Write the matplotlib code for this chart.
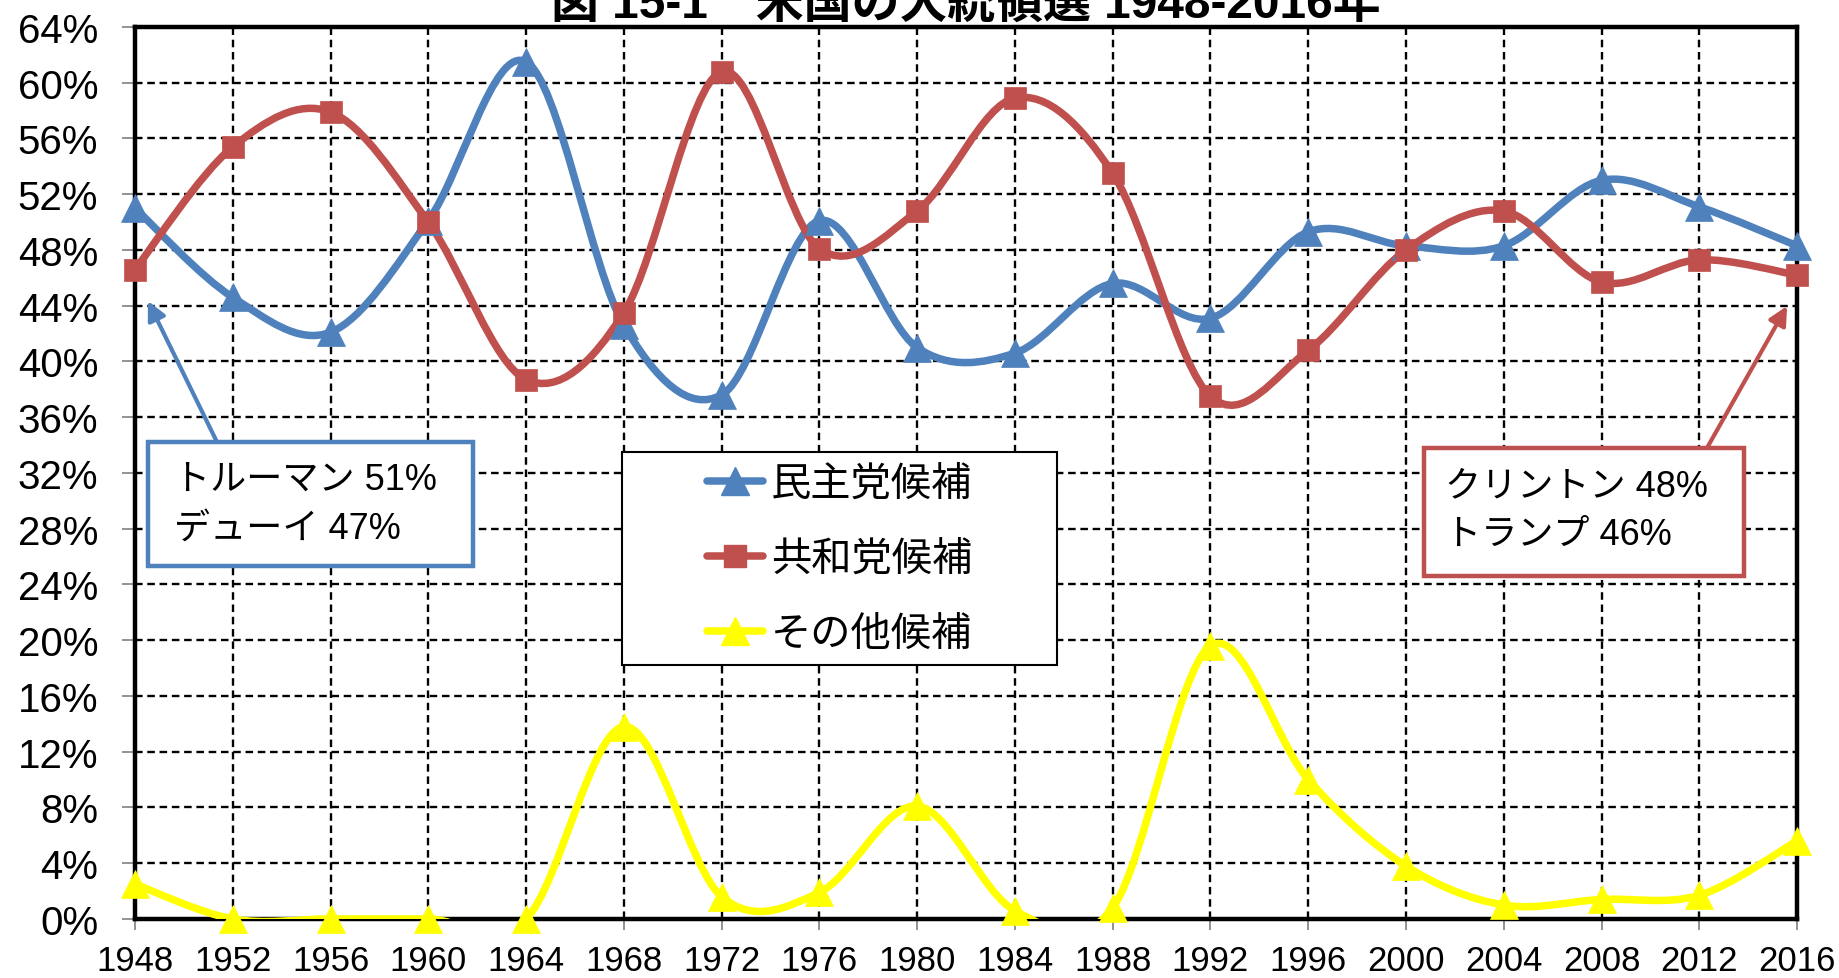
import matplotlib
matplotlib.use("Agg")
import matplotlib.pyplot as plt
from matplotlib.path import Path
from matplotlib.patches import PathPatch, Rectangle
from matplotlib.lines import Line2D
import numpy as np

# ---------------- data ----------------
years = [1948, 1952, 1956, 1960, 1964, 1968, 1972, 1976, 1980, 1984,
         1988, 1992, 1996, 2000, 2004, 2008, 2012, 2016]
dem = [51.0, 44.6, 42.1, 50.1, 61.5, 42.6, 37.6, 50.1, 41.0, 40.6,
       45.6, 43.1, 49.3, 48.3, 48.3, 53.0, 51.1, 48.3]
rep = [46.6, 55.4, 57.9, 50.0, 38.7, 43.5, 60.8, 48.1, 50.8, 58.9,
       53.5, 37.5, 40.8, 48.0, 50.8, 45.7, 47.3, 46.2]
oth = [2.5, 0.0, 0.0, 0.0, 0.0, 13.8, 1.6, 1.9, 8.1, 0.6,
       0.8, 19.6, 10.0, 3.8, 1.0, 1.4, 1.7, 5.6]
series_names = ["民主党候補", "共和党候補", "その他候補"]
series_colors = ["#4F81BD", "#C0504D", "#FFFF00"]
series_markers = ["^", "s", "^"]
yticks = list(range(0, 65, 4))
ytick_labels = [f"{v}%" for v in yticks]
title = "図 15-1　米国の大統領選 1948-2016年"
note_left = ["トルーマン 51%", "デューイ 47%"]
note_right = ["クリントン 48%", "トランプ 46%"]

LATIN_CJK = ["Liberation Sans", "Noto Sans CJK JP"]
CJK = ["Noto Sans CJK JP", "DejaVu Sans"]


def smooth_path(x, y):
    n = len(x)
    verts = [(x[0], y[0])]
    codes = [Path.MOVETO]
    for i in range(n - 1):
        p0 = i - 1 if i > 0 else i
        p3 = i + 2 if i + 2 < n else i + 1
        c1 = (x[i] + (x[i + 1] - x[p0]) / 6.0, y[i] + (y[i + 1] - y[p0]) / 6.0)
        c2 = (x[i + 1] - (x[p3] - x[i]) / 6.0, y[i + 1] - (y[p3] - y[i]) / 6.0)
        verts += [c1, c2, (x[i + 1], y[i + 1])]
        codes += [Path.CURVE4] * 3
    return Path(verts, codes)


fig = plt.figure(figsize=(18.39, 9.79), dpi=100)
ax = fig.add_axes([0.0734, 0.0603, 0.9038, 0.9111])
ax.set_xlim(years[0], years[-1])
ax.set_ylim(0, 64)

# grid
ax.set_axisbelow(True)
ax.grid(True, color="black", linestyle=(0, (3.2, 2.0)), linewidth=1.7)

LW = 5.4
ms_map = {"^": 20, "s": 16.5}
for vals, name, col, mk in zip([dem, rep, oth], series_names, series_colors, series_markers):
    patch = PathPatch(smooth_path(years, vals), facecolor="none", edgecolor=col,
                      lw=LW, capstyle="round", joinstyle="round", zorder=3)
    ax.add_patch(patch)
    ax.plot(years, vals, linestyle="none", marker=mk, markersize=ms_map[mk],
            color=col, markeredgecolor=col, markeredgewidth=0.5,
            clip_on=False, zorder=4)

# axes styling
for s in ax.spines.values():
    s.set_linewidth(3.2)
    s.set_color("black")
ax.set_xticks(years)
ax.set_xticklabels([str(y) for y in years], fontsize=25, family=LATIN_CJK)
ax.set_yticks(yticks)
ax.set_yticklabels(ytick_labels, fontsize=29, family=LATIN_CJK)
ax.tick_params(axis="y", direction="out", length=9.5, width=1.2, color="#808080", pad=17)
ax.tick_params(axis="x", direction="out", length=8, width=1.2, color="#808080", pad=10)

# legend (frame drawn separately)
lx0, ly0, lx1, ly1 = 0.293, 0.285, 0.555, 0.5235
ax.add_patch(Rectangle((lx0, ly0), lx1 - lx0, ly1 - ly0, transform=ax.transAxes,
                       facecolor="white", edgecolor="black", lw=1.5, zorder=6))
handles = [Line2D([0], [0], color=c, lw=LW, marker=m, markersize=ms_map[m],
                  markeredgecolor=c, solid_capstyle="round")
           for c, m in zip(series_colors, series_markers)]
leg = ax.legend(handles, series_names, loc="center",
                bbox_to_anchor=((lx0 + lx1) / 2, (ly0 + ly1) / 2),
                bbox_transform=ax.transAxes, frameon=False,
                prop={"family": CJK, "size": 29}, handlelength=1.4,
                handletextpad=0.2, labelspacing=0.85, borderaxespad=0)
leg.set_zorder(7)

# annotation boxes
def note_box(x0, y0, x1, y1, color, lines, tx, ty1, ty2):
    ax.add_patch(Rectangle((x0, y0), x1 - x0, y1 - y0, transform=ax.transAxes,
                           facecolor="white", edgecolor=color, lw=3.2, zorder=6))
    ax.text(tx, ty1, lines[0], transform=ax.transAxes, fontsize=26,
            family=LATIN_CJK, va="baseline", ha="left", zorder=7)
    ax.text(tx, ty2, lines[1], transform=ax.transAxes, fontsize=26,
            family=LATIN_CJK, va="baseline", ha="left", zorder=7)

note_box(0.0078, 0.3957, 0.2034, 0.5348, series_colors[0], note_left, 0.0235, 0.482, 0.428)
note_box(0.7756, 0.3845, 0.9681, 0.528, series_colors[1], note_right, 0.7880, 0.4753, 0.4204)

ax.annotate("", xy=(0.0078, 0.6928), xytext=(0.0493, 0.5348),
            xycoords="axes fraction", textcoords="axes fraction",
            arrowprops=dict(arrowstyle="-|>", color=series_colors[0], lw=3.0,
                            mutation_scale=28, shrinkA=0, shrinkB=0), zorder=6)
ax.annotate("", xy=(0.9940, 0.6872), xytext=(0.9458, 0.528),
            xycoords="axes fraction", textcoords="axes fraction",
            arrowprops=dict(arrowstyle="-|>", color=series_colors[1], lw=3.0,
                            mutation_scale=28, shrinkA=0, shrinkB=0), zorder=6)

fig.text(0.5254, 1 - 18 / 979, title, ha="center", va="baseline",
         fontsize=34.5, fontweight="bold", family=LATIN_CJK)

fig.savefig("out.png", dpi=100, facecolor="white")
